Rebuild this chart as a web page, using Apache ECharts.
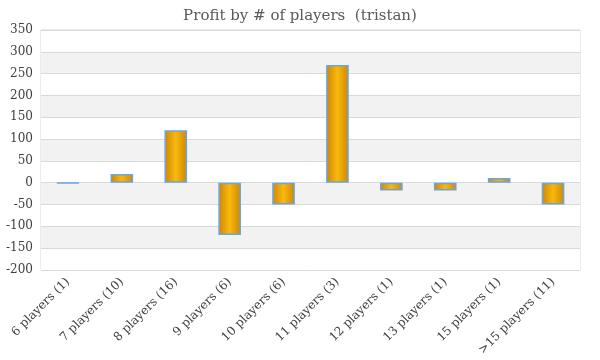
<!DOCTYPE html>
<html><head><meta charset="utf-8">
<script src="https://cdn.jsdelivr.net/npm/echarts@6/dist/echarts.min.js"></script>
<style>html,body{margin:0;padding:0;background:#fff}#c{width:600px;height:360px}</style>
</head><body><div id="c"></div>
<script>
const categories = ["6 players (1)","7 players (10)","8 players (16)","9 players (6)","10 players (6)","11 players (3)","12 players (1)","13 players (1)","15 players (1)",">15 players (11)"];
const profit = [-1, 20, 120, -120, -50, 270, -18, -18, 11, -50];
const yTicks = {min: -200, max: 350, interval: 50};
const titleText = "Profit by # of players  (tristan)";

const font = "Georgia, 'DejaVu Serif', serif";
const chart = echarts.init(document.getElementById('c'), null, {renderer: 'canvas'});
const grad = new echarts.graphic.LinearGradient(0, 0, 1, 0, [
  {offset: 0, color: '#d08600'},
  {offset: 0.5, color: '#f9b80f'},
  {offset: 1, color: '#d08600'}
]);
chart.setOption({
  animation: false,
  backgroundColor: '#fff',
  title: {text: titleText, left: 'center', top: 4,
    textStyle: {fontFamily: font, fontSize: 15, fontWeight: 'normal', color: '#595959'}},
  grid: {left: 41, right: 20, top: 30, bottom: 90, show: true, borderColor: '#d9d9d9', borderWidth: 1},
  xAxis: {type: 'category', data: categories,
    axisLine: {show: false, onZero: false}, axisTick: {show: false},
    axisLabel: {rotate: 45, interval: 0, margin: 10, fontFamily: font, fontSize: 12, color: '#404040'}},
  yAxis: {type: 'value', min: yTicks.min, max: yTicks.max, interval: yTicks.interval,
    axisLine: {show: false}, axisTick: {show: false},
    axisLabel: {fontFamily: font, fontSize: 12, color: '#404040', margin: 8},
    splitLine: {lineStyle: {color: '#d9d9d9', width: 1}},
    splitArea: {show: true, areaStyle: {color: ['#ffffff', '#f2f2f2']}}},
  series: [{type: 'bar', data: profit, barWidth: '42%',
    itemStyle: {color: grad, borderColor: '#6aa5e0', borderWidth: 1.5}}]
});
</script></body></html>
